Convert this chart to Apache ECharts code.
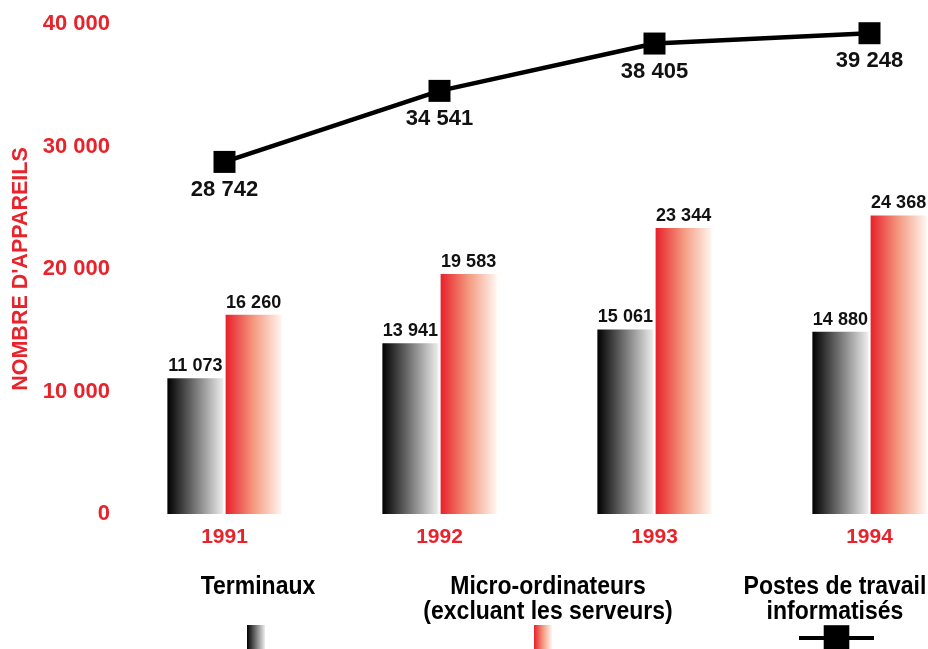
<!DOCTYPE html>
<html>
<head>
<meta charset="utf-8">
<script src="https://cdn.jsdelivr.net/npm/echarts@6/dist/echarts.min.js"></script>
<style>
  html, body { margin: 0; padding: 0; background: #fff; }
  #chart { width: 928px; height: 649px; }
</style>
</head>
<body>
<div id="chart"></div>
<script>
// données
const annees = ["1991", "1992", "1993", "1994"];
const terminaux = [11073, 13941, 15061, 14880];
const microOrdinateurs = [16260, 19583, 23344, 24368];
const postesTravail = [28742, 34541, 38405, 39248];
const yTicks = [0, 10000, 20000, 30000, 40000];

const ROUGE = "#e8232b";
const POLICE = "Liberation Sans, Arial, sans-serif";

// 28742 -> "28 742"
function fmt(v) {
  return String(v).replace(/\B(?=(\d{3})+(?!\d))/g, " ");
}

const degradeNoir = new echarts.graphic.LinearGradient(0, 0, 1, 0, [
  { offset: 0, color: "#000000" },
  { offset: 1, color: "#eeeeee" },
]);
const degradeRouge = new echarts.graphic.LinearGradient(0, 0, 1, 0, [
  { offset: 0, color: "#e8202a" },
  { offset: 0.5, color: "#f49a80" },
  { offset: 1, color: "#fff6f0" },
]);

const chart = echarts.init(document.getElementById("chart"));

const barLabel = {
  show: true,
  position: "top",
  distance: 3,
  color: "#111",
  fontSize: 18,
  fontWeight: "bold",
  fontFamily: POLICE,
  formatter: (p) => fmt(p.value),
};

// texte de légende, un peu étroit comme l'original
function texteLegende(x, texte) {
  return {
    type: "text",
    x: x,
    y: 575,
    scaleX: 0.92,
    style: {
      text: texte,
      fontFamily: POLICE,
      fontWeight: "bold",
      fontSize: 25,
      fill: "#000",
      align: "center",
      lineHeight: 25,
    },
  };
}

function legende(nom, x, w, h, icone) {
  return {
    data: [{ name: nom, icon: icone }],
    left: x,
    top: 625,
    padding: 0,
    itemWidth: w,
    itemHeight: h,
    formatter: () => "",
    selectedMode: false,
  };
}

chart.setOption({
  animation: false,
  // la grille dépasse à droite : la 4e catégorie est coupée comme dans l'original
  grid: { left: 117, width: 860, top: 24, bottom: 135, outerBoundsMode: "none" },
  xAxis: {
    type: "category",
    data: annees,
    axisLine: { show: false },
    axisTick: { show: false },
    axisLabel: {
      color: ROUGE,
      fontSize: 21,
      fontWeight: "bold",
      fontFamily: POLICE,
      margin: 13,
    },
  },
  yAxis: {
    type: "value",
    min: yTicks[0],
    max: yTicks[yTicks.length - 1],
    interval: 10000,
    name: "NOMBRE D'APPAREILS",
    nameLocation: "middle",
    nameRotate: 90,
    nameGap: 84,
    nameTextStyle: {
      color: ROUGE,
      fontSize: 21.5,
      fontWeight: "bold",
      fontFamily: POLICE,
    },
    axisLine: { show: false },
    axisTick: { show: false },
    splitLine: { show: false },
    axisLabel: {
      color: ROUGE,
      fontSize: 22,
      fontWeight: "bold",
      fontFamily: POLICE,
      margin: 7,
      formatter: (v) => fmt(v),
    },
  },
  legend: [
    legende("Terminaux", 247, 18, 26, "rect"),
    legende("Micro-ordinateurs", 534, 18, 26, "rect"),
    Object.assign(legende("Postes de travail", 797, 75, 32), { top: 622, lineStyle: { width: 4 } }),
  ],
  graphic: [
    texteLegende(258, "Terminaux"),
    texteLegende(548, "Micro-ordinateurs\n(excluant les serveurs)"),
    texteLegende(835, "Postes de travail\ninformatisés"),
  ],
  series: [
    {
      name: "Terminaux",
      type: "bar",
      data: terminaux,
      barWidth: 56,
      barGap: "4%",
      itemStyle: { color: degradeNoir },
      label: barLabel,
    },
    {
      name: "Micro-ordinateurs",
      type: "bar",
      data: microOrdinateurs,
      barWidth: 56,
      itemStyle: { color: degradeRouge },
      label: barLabel,
    },
    {
      name: "Postes de travail",
      type: "line",
      data: postesTravail,
      symbol: "rect",
      symbolSize: 22,
      lineStyle: { color: "#000", width: 4.5 },
      itemStyle: { color: "#000" },
      label: {
        show: true,
        position: "bottom",
        distance: 6,
        color: "#111",
        fontSize: 22,
        fontWeight: "bold",
        fontFamily: POLICE,
        formatter: (p) => fmt(p.value),
      },
    },
  ],
});
</script>
</body>
</html>
